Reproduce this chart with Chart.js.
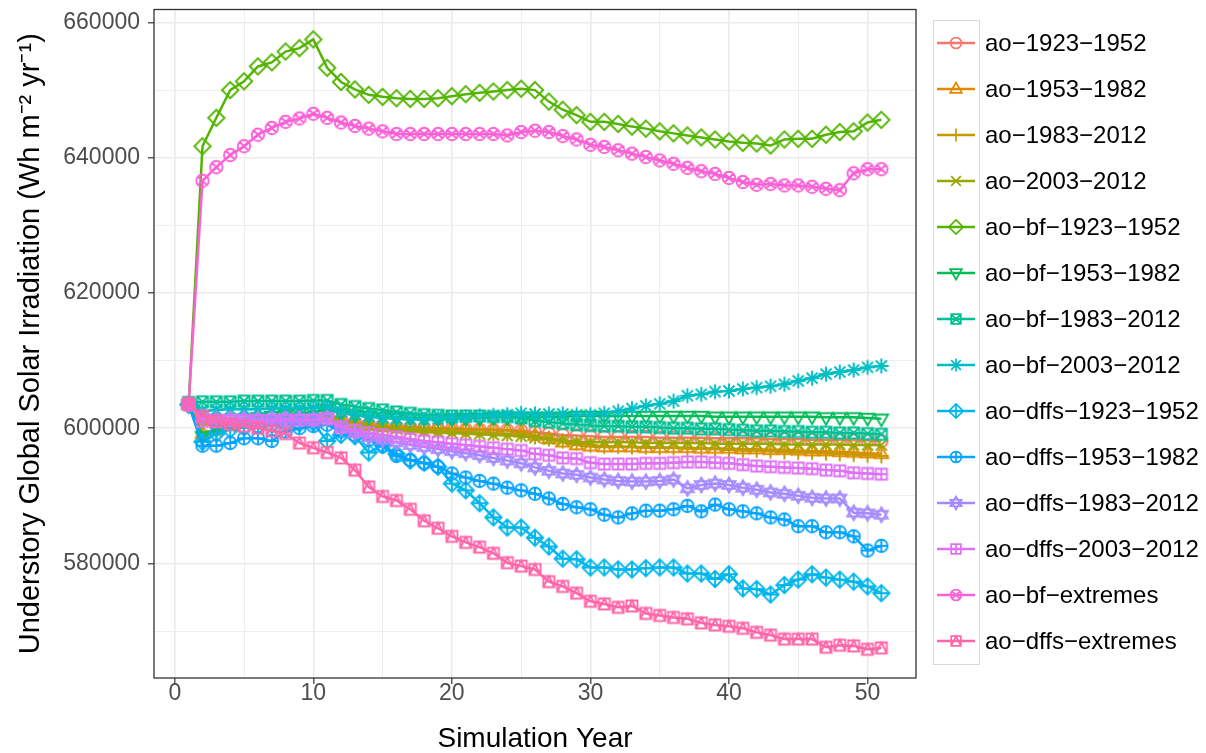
<!DOCTYPE html>
<html>
<head>
<meta charset="utf-8">
<script src="https://cdn.jsdelivr.net/npm/chart.js@4.4.1/dist/chart.umd.min.js"></script>
<style>
  html, body { margin: 0; padding: 0; background: #fff; }
</style>
</head>
<body>
<canvas id="irrChart" width="1206" height="753"></canvas>
<script>
// simulation years
const years = [1,2,3,4,5,6,7,8,9,10,11,12,13,14,15,16,17,18,19,20,21,22,23,24,25,26,27,28,29,30,
  31,32,33,34,35,36,37,38,39,40,41,42,43,44,45,46,47,48,49,50,51];

const xTicks = [0,5,10,15,20,25,30,35,40,45,50];
const yTicks = [570000,580000,590000,600000,610000,620000,630000,640000,650000,660000];
const xLabelled = [0,10,20,30,40,50];
const yLabelled = [580000,600000,620000,640000,660000];

const names = ['ao\u22121923\u22121952','ao\u22121953\u22121982','ao\u22121983\u22122012','ao\u22122003\u22122012',
  'ao\u2212bf\u22121923\u22121952','ao\u2212bf\u22121953\u22121982','ao\u2212bf\u22121983\u22122012','ao\u2212bf\u22122003\u22122012',
  'ao\u2212dffs\u22121923\u22121952','ao\u2212dffs\u22121953\u22121982','ao\u2212dffs\u22121983\u22122012','ao\u2212dffs\u22122003\u22122012',
  'ao\u2212bf\u2212extremes','ao\u2212dffs\u2212extremes'];
const colors = ['#F8766D','#E38900','#C49A00','#99A800','#53B400','#00BC56','#00C094',
  '#00BFC4','#00B6EB','#06A4FF','#A58AFF','#DF70F8','#FB61D7','#FF66A8'];
const shapes = ['circle','triangle','plus','cross','diamond','triangleDown','squareX',
  'asterisk','diamondPlus','circlePlus','star','squarePlus','circleX','squareTriangle'];

const ao1923 = [603500,601500,601300,601300,601400,601500,601600,601600,601700,601800,
  602000,601300,600900,600600,600400,600200,600100,600000,599900,599900,
  599800,599800,599700,599700,599600,599400,599200,599000,598900,598800,
  598700,598700,598700,598700,598600,598600,598600,598600,598500,598500,
  598500,598500,598400,598400,598400,598300,598300,598300,598200,598200,598100];
const ao1953 = [603500,599200,599800,600400,600700,600900,601000,601100,601200,601300,
  601600,600900,600600,600400,600300,600200,600100,600000,600000,599900,
  599900,599800,599800,599700,599400,598900,598400,597900,597500,597300,
  597200,597200,597200,597100,597100,597100,597100,597000,597000,597000,
  596900,596900,596800,596800,596700,596600,596600,596500,596400,596300,596200];
const ao1983 = [603500,600500,600800,601000,601100,601200,601300,601400,601400,601500,
  601800,601000,600600,600300,600100,599900,599800,599700,599600,599500,
  599400,599300,599200,599100,599000,598700,598400,598100,597800,597500,
  597300,597300,597200,597200,597100,597100,597000,597000,596900,596800,
  596700,596700,596600,596500,596400,596400,596300,596200,596100,596000,595900];
const ao2003 = [603500,598900,599500,600200,600600,600800,601000,601100,601200,601300,
  601600,601000,600600,600300,600100,599900,599700,599500,599400,599300,
  599200,599100,599000,598900,598800,598600,598400,598200,598000,597900,
  597900,597900,597900,597800,597800,597800,597800,597800,597700,597700,
  597700,597700,597700,597600,597600,597600,597600,597600,597500,597500,597500];
const bf1923 = [603500,641700,645900,650000,651300,653500,654100,655700,656200,657500,
  653300,651200,650100,649300,649000,648800,648700,648700,648800,649100,
  649400,649600,649800,650000,650200,650000,648300,647100,646300,645300,
  645300,645000,644600,644300,643900,643600,643300,643000,642700,642400,
  642200,642100,641800,642700,642800,642800,643400,643800,643900,645200,645600];
const bf1953 = [603500,598800,599800,600800,601400,601600,601800,602000,602200,602400,
  602800,602300,602000,601800,601600,601500,601500,601400,601400,601400,
  601500,601500,601600,601600,601700,601700,601700,601700,601800,601800,
  601800,601800,601800,601800,601800,601800,601800,601800,601700,601700,
  601700,601700,601700,601700,601700,601700,601600,601600,601600,601500,601400];
const bf1983 = [603800,603900,603900,603900,604000,604000,604000,604000,604000,604100,
  604100,603500,603200,602900,602700,602400,602200,602000,601900,601800,
  601800,601800,601700,601700,601500,601100,600900,600700,600500,600400,
  600300,600300,600200,600200,600100,600000,600000,599900,599900,599800,
  599700,599600,599600,599500,599500,599400,599400,599300,599300,599200,599100];
const bf2003 = [603500,602500,602700,602800,602800,602800,602900,602900,602900,603000,
  603100,602400,602000,601700,601500,601400,601300,601300,601400,601500,
  601600,601800,601900,602000,602200,602100,602100,602100,602000,602000,
  602200,602500,602900,603300,603600,604000,604800,605000,605400,605500,
  605800,606000,606200,606500,607000,607400,608000,608300,608600,609000,609200];
const dffs1923 = [603500,598000,599200,599800,600100,600300,600500,600600,600700,600800,
  598100,599000,598800,596400,597500,596200,595200,594900,594300,591800,
  590800,588900,586800,585300,585300,583800,582500,580700,580600,579400,
  579400,579100,579100,579300,579400,579400,578500,578500,577700,578400,
  576300,576200,575400,576800,577600,578400,577900,577600,577300,576600,575600];
const dffs1953 = [603500,597400,597400,597800,598500,598500,598100,599500,600000,600300,
  600500,599500,599000,598300,597300,595900,595300,594800,594300,593300,
  592700,592200,591800,591200,590800,590300,589600,588800,588300,588000,
  587200,586800,587400,587800,587800,588000,588500,587700,588700,588000,
  587700,587400,586800,586500,585500,585500,584600,584600,584000,581900,582600];
const dffs1983 = [603500,601500,601400,601400,601400,601400,601400,601400,601400,601300,
  601500,600000,599300,598700,598300,597900,597500,597200,596900,596600,
  596300,596000,595600,595200,594800,594200,593700,593300,593100,592700,
  592400,592200,592100,592100,592200,592400,591100,591600,591800,591600,
  591200,590900,590500,590300,590000,589700,589600,589600,587500,587400,587200];
const dffs2003 = [603500,601000,601000,601100,601100,601100,601100,601200,601200,601200,
  601400,600200,599700,599300,599000,598700,598400,598100,597900,597700,
  597500,597300,597100,596900,596700,596200,596000,595600,595500,594900,
  594700,594700,594700,594800,594800,594900,595000,595000,594900,594800,
  594600,594400,594300,594200,594100,594000,593800,593700,593400,593300,593200];
const bfExtremes = [603500,636600,638600,640400,641700,643400,644400,645300,645800,646500,
  645900,645200,644700,644300,643900,643500,643500,643500,643500,643500,
  643500,643500,643500,643300,643800,644000,643800,643200,642700,641900,
  641600,641100,640600,640100,639600,639100,638500,638000,637600,637000,
  636400,636000,636100,635900,635900,635700,635400,635200,637700,638300,638300];
const dffsExtremes = [603600,601800,601000,600600,600300,600000,599600,599200,597800,597100,
  596400,595600,593800,591300,589900,589300,588000,586300,585200,584000,
  583100,582400,581500,580100,579600,579100,577300,576600,575600,574400,
  574000,573500,573700,572600,572300,572000,571800,571200,570900,570700,
  570400,569800,569400,568800,568800,568800,567600,567900,567800,567300,567500];

const series = [ao1923, ao1953, ao1983, ao2003, bf1923, bf1953, bf1983, bf2003,
  dffs1923, dffs1953, dffs1983, dffs2003, bfExtremes, dffsExtremes];

const FONT = "'Liberation Sans', Arial, Helvetica, sans-serif";

// open ggplot-like marker outlines, k scales the size
function strokeShape(g, shape, k) {
  const r = 5.2 * k, s = 4.6 * k, d = 6.8 * k, p = 6.2 * k;
  g.beginPath();
  switch (shape) {
    case 'circle':
      g.arc(0, 0, r, 0, Math.PI * 2); break;
    case 'triangle':
      g.moveTo(0, -p); g.lineTo(5.6 * k, 3.6 * k); g.lineTo(-5.6 * k, 3.6 * k); g.closePath(); break;
    case 'triangleDown':
      g.moveTo(0, p); g.lineTo(5.6 * k, -3.6 * k); g.lineTo(-5.6 * k, -3.6 * k); g.closePath(); break;
    case 'plus':
      g.moveTo(-p, 0); g.lineTo(p, 0); g.moveTo(0, -p); g.lineTo(0, p); break;
    case 'cross':
      g.moveTo(-s, -s); g.lineTo(s, s); g.moveTo(s, -s); g.lineTo(-s, s); break;
    case 'diamond':
      g.moveTo(0, -d); g.lineTo(d, 0); g.lineTo(0, d); g.lineTo(-d, 0); g.closePath(); break;
    case 'squareX':
      g.rect(-s, -s, 2 * s, 2 * s);
      g.moveTo(-s, -s); g.lineTo(s, s); g.moveTo(s, -s); g.lineTo(-s, s); break;
    case 'asterisk':
      g.moveTo(-p, 0); g.lineTo(p, 0); g.moveTo(0, -p); g.lineTo(0, p);
      g.moveTo(-s, -s); g.lineTo(s, s); g.moveTo(s, -s); g.lineTo(-s, s); break;
    case 'diamondPlus':
      g.moveTo(0, -d); g.lineTo(d, 0); g.lineTo(0, d); g.lineTo(-d, 0); g.closePath();
      g.moveTo(-d, 0); g.lineTo(d, 0); g.moveTo(0, -d); g.lineTo(0, d); break;
    case 'circlePlus':
      g.arc(0, 0, r, 0, Math.PI * 2);
      g.moveTo(-r, 0); g.lineTo(r, 0); g.moveTo(0, -r); g.lineTo(0, r); break;
    case 'star':
      g.moveTo(0, -p); g.lineTo(5.4 * k, 3.1 * k); g.lineTo(-5.4 * k, 3.1 * k); g.closePath();
      g.moveTo(0, p); g.lineTo(5.4 * k, -3.1 * k); g.lineTo(-5.4 * k, -3.1 * k); g.closePath(); break;
    case 'squarePlus':
      g.rect(-s, -s, 2 * s, 2 * s);
      g.moveTo(-s, 0); g.lineTo(s, 0); g.moveTo(0, -s); g.lineTo(0, s); break;
    case 'circleX':
      g.arc(0, 0, r, 0, Math.PI * 2);
      g.moveTo(-0.72 * r, -0.72 * r); g.lineTo(0.72 * r, 0.72 * r);
      g.moveTo(0.72 * r, -0.72 * r); g.lineTo(-0.72 * r, 0.72 * r); break;
    case 'squareTriangle':
      g.rect(-s, -s, 2 * s, 2 * s);
      g.moveTo(-s, s); g.lineTo(0, -s); g.lineTo(s, s); break;
  }
  g.stroke();
}

function makeMarker(shape, color) {
  const c = document.createElement('canvas');
  c.width = 22; c.height = 22;
  const g = c.getContext('2d');
  g.translate(11, 11);
  g.strokeStyle = color;
  g.lineWidth = 1.9;
  strokeShape(g, shape, 1.2);
  return c;
}

const datasets = names.map((name, i) => ({
  label: name,
  data: series[i],
  borderColor: colors[i],
  backgroundColor: colors[i],
  borderWidth: 2.5,
  tension: 0,
  fill: false,
  pointStyle: makeMarker(shapes[i], colors[i]),
  pointRadius: 7,
  pointHoverRadius: 7,
  order: names.length - i
}));

const panelBorder = {
  id: 'panelBorder',
  afterDatasetsDraw(chart) {
    const { ctx, chartArea: a } = chart;
    ctx.save();
    ctx.strokeStyle = '#333333';
    ctx.lineWidth = 1.3;
    ctx.strokeRect(a.left, a.top, a.right - a.left, a.bottom - a.top);
    ctx.restore();
  }
};

const keyLegend = {
  id: 'keyLegend',
  afterDraw(chart) {
    const ctx = chart.ctx;
    const left = 933, top = 20, keyW = 46, keyH = 46;
    ctx.save();
    ctx.strokeStyle = '#D9D9D9';
    ctx.lineWidth = 1;
    ctx.strokeRect(left + 0.5, top + 0.5, keyW, keyH * names.length);
    chart.data.datasets.forEach((ds, i) => {
      const cy = top + keyH * i + keyH / 2;
      ctx.strokeStyle = colors[i];
      ctx.lineWidth = 2.5;
      ctx.beginPath();
      ctx.moveTo(left + 4, cy);
      ctx.lineTo(left + keyW - 4, cy);
      ctx.stroke();
      ctx.save();
      ctx.translate(left + keyW / 2, cy);
      ctx.lineWidth = 1.7;
      strokeShape(ctx, shapes[i], 1.05);
      ctx.restore();
      ctx.fillStyle = '#000000';
      ctx.font = '24px ' + FONT;
      ctx.textBaseline = 'middle';
      ctx.textAlign = 'left';
      ctx.fillText(ds.label, left + keyW + 6, cy + 1);
    });
    ctx.restore();
  }
};

new Chart(document.getElementById('irrChart'), {
  type: 'line',
  data: { labels: years, datasets: datasets },
  options: {
    responsive: false,
    animation: false,
    layout: { padding: { top: 7, right: 290, left: 0, bottom: 0 } },
    plugins: { legend: { display: false }, tooltip: { enabled: false } },
    scales: {
      x: {
        type: 'linear',
        min: -1.5,
        max: 53.5,
        afterFit(scale) { scale.height = 75; scale.paddingLeft = 0; scale.paddingRight = 0; },
        afterBuildTicks(scale) { scale.ticks = xTicks.map(v => ({ value: v })); },
        border: { display: false },
        grid: {
          color: '#EBEBEB',
          lineWidth: c => (xLabelled.includes(c.tick && c.tick.value) ? 1.6 : 0.8),
          tickColor: c => (xLabelled.includes(c.tick && c.tick.value) ? '#333333' : 'rgba(0,0,0,0)'),
          tickLength: 6,
          tickWidth: 1.2
        },
        ticks: {
          autoSkip: false,
          maxRotation: 0,
          padding: -4,
          color: '#4D4D4D',
          font: { family: FONT, size: 23 },
          callback: v => (xLabelled.includes(v) ? String(v) : '')
        },
        title: {
          display: true,
          text: 'Simulation Year',
          color: '#000000',
          font: { family: FONT, size: 28 },
          padding: { top: 0, bottom: -3 }
        }
      },
      y: {
        type: 'linear',
        min: 563050,
        max: 661920,
        afterFit(scale) { scale.width = 154; scale.paddingTop = 0; scale.paddingBottom = 0; },
        afterBuildTicks(scale) { scale.ticks = yTicks.map(v => ({ value: v })); },
        border: { display: false },
        grid: {
          color: '#EBEBEB',
          lineWidth: c => (yLabelled.includes(c.tick && c.tick.value) ? 1.6 : 0.8),
          tickColor: c => (yLabelled.includes(c.tick && c.tick.value) ? '#333333' : 'rgba(0,0,0,0)'),
          tickLength: 6,
          tickWidth: 1.2
        },
        ticks: {
          autoSkip: false,
          padding: 8,
          color: '#4D4D4D',
          font: { family: FONT, size: 23 },
          callback: v => (yLabelled.includes(v) ? String(v) : '')
        },
        title: {
          display: true,
          text: 'Understory Global Solar Irradiation (Wh m\u207B\u00B2 yr\u207B\u00B9)',
          color: '#000000',
          font: { family: FONT, size: 29 },
          padding: { top: 14, bottom: 0 }
        }
      }
    }
  },
  plugins: [panelBorder, keyLegend]
});
</script>
</body>
</html>
